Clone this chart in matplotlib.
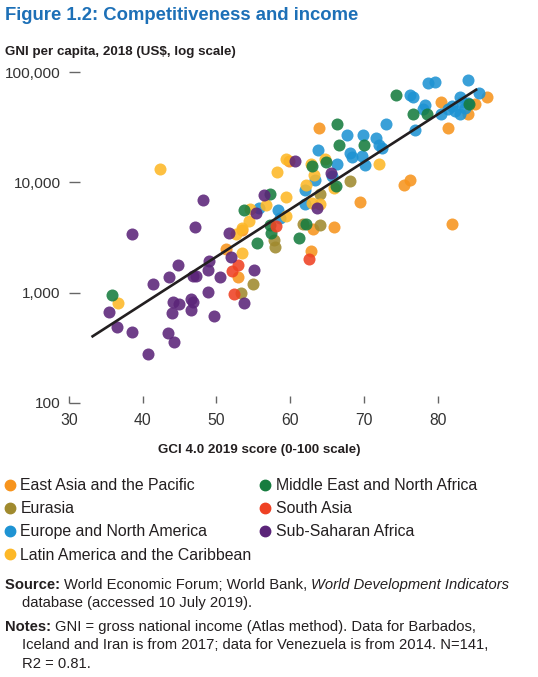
import numpy as np
import matplotlib
matplotlib.use('Agg')
import matplotlib.pyplot as plt
from matplotlib.lines import Line2D

plt.rcParams['font.family'] = ['Liberation Sans', 'DejaVu Sans']

# GCI 4.0 2019 score and GNI per capita (US$), by region
east_asia_x = [86.7, 85.0, 84.1, 80.5, 81.4, 76.2, 75.4, 81.9, 69.4, 63.9, 65.9, 63.1, 62.8, 53.5, 51.3, 52.9, 59.9]
east_asia_y = [59600, 51200, 41500, 54000, 31000, 10500, 9400, 4200, 6700, 31400, 3900, 3800, 2400, 3700, 2500, 1400, 15600]

eurasia_x = [68.1, 64.1, 61.8, 64.0, 57.8, 58.0, 55.0, 53.3]
eurasia_y = [10300, 7900, 4200, 4100, 3000, 2600, 1200, 1000]

europe_na_x = [84.1, 78.7, 79.7, 76.3, 76.7, 85.6, 83.0, 78.3, 78.0, 80.5, 81.4, 82.0, 83.0, 83.3, 84.1, 76.9, 73.0,
               82.4, 67.7, 69.9, 71.6, 72.0, 72.4, 63.8, 68.1, 68.4, 69.7, 70.2, 66.4, 65.7, 63.3, 62.0, 62.0, 58.4,
               58.6, 55.7, 83.7]
europe_na_y = [85000, 79000, 82000, 62000, 59600, 64000, 59000, 50000, 46000, 42000, 46000, 49000, 41500, 53000, 52000,
               30000, 34000, 44000, 26700, 26700, 25000, 22000, 20600, 19700, 18600, 17000, 17300, 14300, 14800, 11300,
               10500, 8500, 6400, 5600, 4800, 5800, 47000]

latam_x = [42.3, 59.4, 58.2, 62.8, 63.2, 64.7, 72.0, 62.1, 59.4, 56.7, 54.5, 59.4, 54.4, 53.4, 52.7, 63.0, 64.0, 53.5,
           36.7, 66.0]
latam_y = [13100, 16400, 12400, 14600, 11600, 16200, 14800, 9400, 7400, 6200, 5700, 5000, 4450, 3870, 3400, 6500, 6300,
           2300, 800, 8950]

mena_x = [74.4, 76.6, 78.5, 84.3, 66.4, 66.6, 70.0, 64.8, 63.0, 66.2, 57.2, 53.8, 62.1, 57.2, 57.4, 55.5, 61.2, 35.8]
mena_y = [61800, 41500, 41500, 51200, 34000, 22000, 21800, 15300, 14000, 9200, 7800, 5600, 4200, 4100, 3500, 2800,
          3100, 960]

south_asia_x = [58.1, 62.5, 52.9, 52.1, 52.4]
south_asia_y = [4060, 2020, 1770, 1580, 970]

ssa_x = [60.7, 56.5, 48.2, 55.4, 63.6, 65.5, 38.5, 47.1, 51.7, 52.0, 55.1, 53.7, 49.0, 48.9, 50.5, 44.8, 43.5, 41.4,
         46.8, 47.2, 48.9, 44.1, 44.9, 44.0, 46.5, 46.8, 46.6, 49.6, 35.4, 36.5, 38.5, 43.4, 44.3, 40.7]
ssa_y = [15600, 7600, 6900, 5300, 5800, 12200, 3400, 3900, 3500, 2100, 1600, 800, 1950, 1600, 1400, 1800, 1380, 1200,
         1430, 1420, 1020, 830, 790, 650, 880, 830, 700, 620, 670, 490, 440, 435, 360, 280]

regions = ['East Asia and the Pacific', 'Eurasia', 'Europe and North America', 'Latin America and the Caribbean',
           'Middle East and North Africa', 'South Asia', 'Sub-Saharan Africa']
colors = ['#F7941D', '#A08A2E', '#1E93D3', '#FDB827', '#167C3F', '#EF4123', '#5B2479']
xs = [east_asia_x, eurasia_x, europe_na_x, latam_x, mena_x, south_asia_x, ssa_x]
ys = [east_asia_y, eurasia_y, europe_na_y, latam_y, mena_y, south_asia_y, ssa_y]

W, H = 538, 677
fig = plt.figure(figsize=(W / 100, H / 100), dpi=100)
ax = fig.add_axes([69 / W, 1 - 403 / H, 424 / W, 331 / H])

for x, y, c in zip(xs, ys, colors):
    ax.scatter(x, y, s=75, color=c, alpha=0.88, linewidths=0, zorder=2, clip_on=False)

# log-linear fit line
all_x = np.concatenate([np.array(v) for v in xs])
all_y = np.concatenate([np.array(v) for v in ys])
b, a = np.polyfit(all_x, np.log10(all_y), 1)
fx = np.linspace(all_x.min() - 2.2, all_x.max() - 1.5, 50)
ax.plot(fx, 10 ** (a + b * fx), color='#231F20', lw=1.9, zorder=3)

ax.set_yscale('log')
ax.set_xlim(30, 87.5)
ax.set_ylim(100, 100000)
ax.set_xticks([30, 40, 50, 60, 70, 80])
ax.set_yticks([100, 1000, 10000, 100000])
ax.set_yticklabels(['100', '1,000', '10,000', '100,000'])
ax.yaxis.set_minor_locator(plt.NullLocator())
for s in ax.spines.values():
    s.set_visible(False)
ax.tick_params(axis='x', direction='in', length=5, width=1, color='#666666', pad=7,
               labelsize=11.3, labelcolor='#333333')
ax.tick_params(axis='y', direction='in', length=8, width=1, color='#666666', pad=6,
               labelsize=11.1, labelcolor='#333333')
ax.patch.set_alpha(0)

txt = '#231F20'
fig.text(5 / W, 1 - 20 / H, 'Figure 1.2: Competitiveness and income', fontsize=13.3, fontweight='bold',
         color='#1D70B7', va='baseline')
fig.text(5 / W, 1 - 55 / H, 'GNI per capita, 2018 (US$, log scale)', fontsize=9.6, fontweight='bold',
         color=txt, va='baseline')
fig.text(259 / W, 1 - 452.5 / H, 'GCI 4.0 2019 score (0-100 scale)', fontsize=9.6, fontweight='bold',
         color=txt, va='baseline', ha='center')

# legend, two columns
rows = [0, 1, 2, 3, 0, 1, 2]
cols = [0, 0, 0, 0, 1, 1, 1]
for name, c, r, k in zip(regions, colors, rows, cols):
    mx = [9.5, 265][k]
    base = 490 + r * 23.2
    fig.add_artist(Line2D([mx / W], [1 - (base - 5.5) / H], marker='o', markersize=7.5,
                          color=c, linestyle='none', transform=fig.transFigure))
    fig.text((mx + 11) / W, 1 - base / H, name, fontsize=11.4, color=txt, va='baseline')

renderer = fig.canvas.get_renderer()


def runs(x, y, parts, size=10.6):
    x = x / W
    for t, w, st in parts:
        tt = fig.text(x, 1 - y / H, t, fontsize=size, fontweight=w, fontstyle=st, color=txt, va='baseline')
        x += tt.get_window_extent(renderer).width / W


runs(5, 589, [('Source: ', 'bold', 'normal'), ('World Economic Forum; World Bank, ', 'normal', 'normal'),
              ('World Development Indicators', 'normal', 'italic')])
runs(21.5, 607, [('database (accessed 10 July 2019).', 'normal', 'normal')])
runs(5, 631, [('Notes: ', 'bold', 'normal'),
              ('GNI = gross national income (Atlas method). Data for Barbados,', 'normal', 'normal')])
runs(21.5, 649, [('Iceland and Iran is from 2017; data for Venezuela is from 2014. N=141,', 'normal', 'normal')])
runs(21.5, 667.5, [('R2 = 0.81.', 'normal', 'normal')])

fig.savefig('out.png', dpi=100)
